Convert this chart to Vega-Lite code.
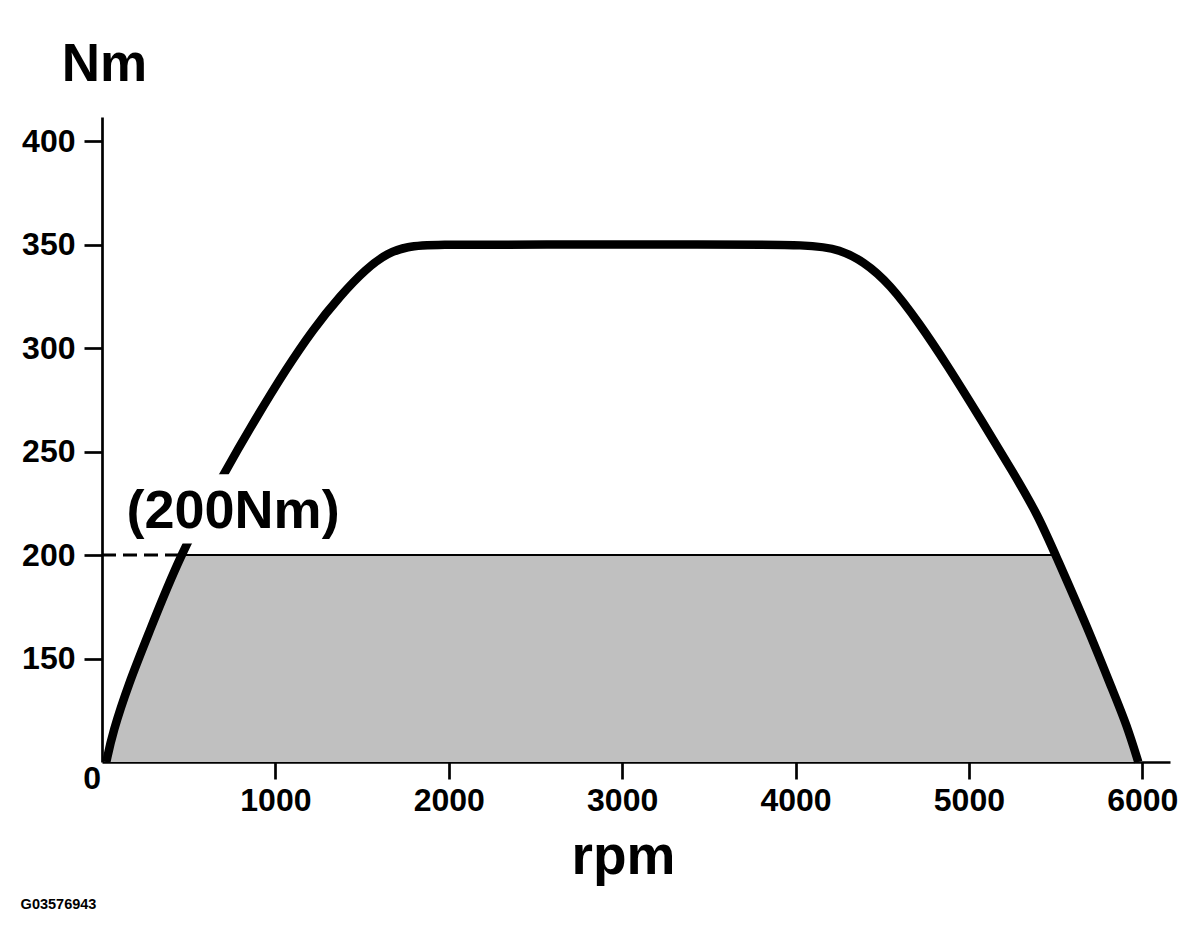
{
  "$schema": "https://vega.github.io/schema/vega-lite/v6.json",
  "autosize": {"type": "none"},
  "padding": {"left": 102, "top": 117, "right": 30, "bottom": 190},
  "width": 1068,
  "height": 645,
  "background": "white",
  "title": {
    "text": "G03576943",
    "orient": "bottom",
    "anchor": "start",
    "frame": "bounds",
    "offset": 14,
    "dx": -1,
    "fontSize": 14.5,
    "fontWeight": "bold",
    "font": "Liberation Sans",
    "color": "black"
  },
  "datasets": {
    "torque": [
      {"rpm": 25, "Nm": 100},
      {"rpm": 60, "Nm": 114},
      {"rpm": 159, "Nm": 139},
      {"rpm": 255, "Nm": 159},
      {"rpm": 448, "Nm": 200},
      {"rpm": 707, "Nm": 240},
      {"rpm": 890, "Nm": 266.4},
      {"rpm": 1063, "Nm": 290},
      {"rpm": 1217, "Nm": 309},
      {"rpm": 1371, "Nm": 325},
      {"rpm": 1525, "Nm": 338.5},
      {"rpm": 1650, "Nm": 346},
      {"rpm": 1760, "Nm": 349},
      {"rpm": 1900, "Nm": 350},
      {"rpm": 2500, "Nm": 350},
      {"rpm": 3500, "Nm": 350},
      {"rpm": 4101, "Nm": 350},
      {"rpm": 4255, "Nm": 347.5},
      {"rpm": 4390, "Nm": 342},
      {"rpm": 4544, "Nm": 331},
      {"rpm": 4717, "Nm": 311.6},
      {"rpm": 4871, "Nm": 292.3},
      {"rpm": 5063, "Nm": 266.4},
      {"rpm": 5255, "Nm": 240},
      {"rpm": 5400, "Nm": 219},
      {"rpm": 5500, "Nm": 200},
      {"rpm": 5679, "Nm": 166},
      {"rpm": 5832, "Nm": 134},
      {"rpm": 5910, "Nm": 118},
      {"rpm": 5977, "Nm": 100}
    ],
    "band": [
      {"rpm": 25, "Nm": 100},
      {"rpm": 60, "Nm": 114},
      {"rpm": 159, "Nm": 139},
      {"rpm": 255, "Nm": 159},
      {"rpm": 448, "Nm": 200},
      {"rpm": 5500, "Nm": 200},
      {"rpm": 5679, "Nm": 166},
      {"rpm": 5832, "Nm": 134},
      {"rpm": 5910, "Nm": 118},
      {"rpm": 5977, "Nm": 100}
    ],
    "level": [
      {"Nm": 200, "rpm_axis": 0, "rpm_start": 448, "rpm_end": 5500}
    ],
    "label": [
      {"rpm": 756, "Nm": 213, "text": "(200Nm)"}
    ]
  },
  "encoding": {
    "x": {
      "field": "rpm",
      "type": "quantitative",
      "scale": {"domain": [0, 6160], "nice": false, "zero": false},
      "axis": {
        "values": [1000, 2000, 3000, 4000, 5000, 6000],
        "format": "d",
        "grid": false,
        "domainWidth": 2.7,
        "domainColor": "black",
        "tickWidth": 2.7,
        "tickColor": "black",
        "tickSize": 17,
        "labelFont": "Liberation Sans",
        "labelFontWeight": "bold",
        "labelFontSize": 32,
        "labelColor": "black",
        "labelPadding": 6,
        "labelFlush": false,
        "title": "rpm",
        "titleFont": "Liberation Sans",
        "titleFontWeight": "bold",
        "titleFontSize": 55,
        "titleColor": "black",
        "titleX": 521,
        "titleY": 111,
        "titleBaseline": "alphabetic",
        "titleAlign": "center"
      }
    },
    "y": {
      "field": "Nm",
      "type": "quantitative",
      "scale": {"domain": [100, 411.6], "nice": false, "zero": false},
      "axis": {
        "values": [150, 200, 250, 300, 350, 400],
        "format": "d",
        "grid": false,
        "domainWidth": 2.7,
        "domainColor": "black",
        "tickWidth": 2.7,
        "tickColor": "black",
        "tickSize": 18,
        "labelFont": "Liberation Sans",
        "labelFontWeight": "bold",
        "labelFontSize": 32,
        "labelColor": "black",
        "labelPadding": 9,
        "labelFlush": false,
        "title": "Nm",
        "titleFont": "Liberation Sans",
        "titleFontWeight": "bold",
        "titleFontSize": 53,
        "titleColor": "black",
        "titleAngle": 0,
        "titleX": 2,
        "titleY": -37,
        "titleBaseline": "alphabetic",
        "titleAlign": "center"
      }
    }
  },
  "layer": [
    {
      "data": {"name": "band"},
      "mark": {"type": "area", "color": "#c0c0c0", "opacity": 1},
      "encoding": {"y2": {"datum": 100}}
    },
    {
      "data": {"name": "level"},
      "mark": {"type": "rule", "color": "black", "strokeWidth": 2},
      "encoding": {"x": {"field": "rpm_start", "type": "quantitative"}, "x2": {"field": "rpm_end"}}
    },
    {
      "data": {"name": "level"},
      "mark": {"type": "rule", "color": "black", "strokeWidth": 3, "strokeDash": [14, 7]},
      "encoding": {"x": {"field": "rpm_axis", "type": "quantitative"}, "x2": {"field": "rpm_start"}}
    },
    {
      "data": {"name": "torque"},
      "mark": {"type": "line", "color": "black", "strokeWidth": 8.5, "interpolate": "basis", "strokeCap": "butt", "strokeJoin": "round"}
    },
    {
      "data": {"name": "label"},
      "mark": {"type": "rect", "color": "white", "opacity": 1},
      "encoding": {"x": {"datum": 120}, "x2": {"datum": 1400}, "y": {"datum": 205.5}, "y2": {"datum": 239}}
    },
    {
      "data": {"name": "label"},
      "mark": {"type": "text", "font": "Liberation Sans", "fontWeight": "bold", "fontSize": 54, "color": "black", "align": "center", "baseline": "alphabetic"},
      "encoding": {"text": {"field": "text"}}
    },
    {
      "data": {"name": "label"},
      "mark": {"type": "text", "font": "Liberation Sans", "fontWeight": "bold", "fontSize": 32, "color": "black", "align": "right", "baseline": "middle", "dx": -1, "dy": 17},
      "encoding": {"x": {"datum": 0}, "y": {"datum": 100}, "text": {"value": "0"}}
    }
  ],
  "config": {"view": {"stroke": null}}
}
